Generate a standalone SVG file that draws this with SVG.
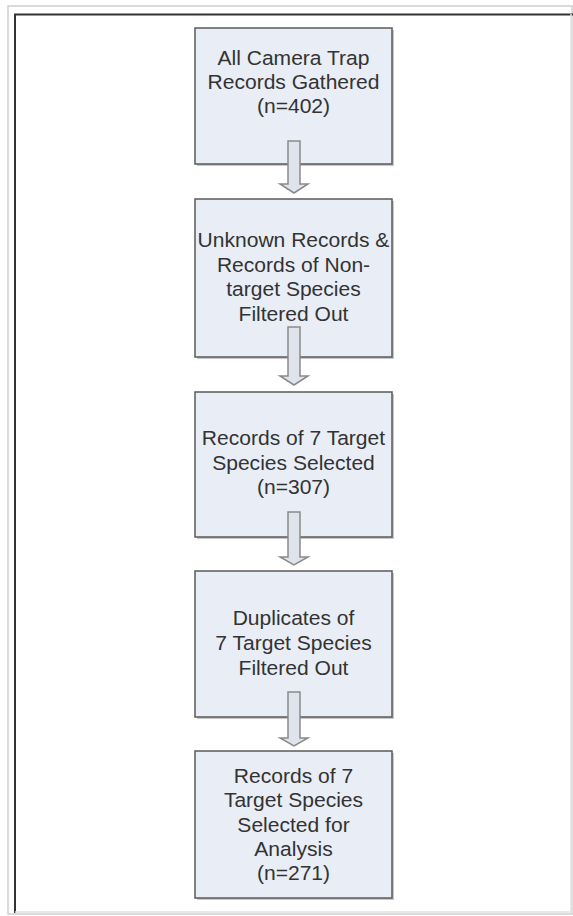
<svg xmlns="http://www.w3.org/2000/svg" width="573" height="916" viewBox="0 0 573 916">
<style>
.box{fill:#e9edf6;stroke:#5a5a5a;stroke-width:1.5}
.shadow{fill:#c8c8c8}
.t{font-family:"Liberation Sans",Arial,sans-serif;font-size:19.5px;fill:#333;text-anchor:middle}
.arr{fill:#dfe3ec;stroke:#8a8a8a;stroke-width:1.5;stroke-linejoin:miter}
</style>
<rect width="573" height="916" fill="#ffffff"/>
<g id="frame">
<rect x="8" y="6" width="564" height="908" fill="none" stroke="#cfcfcf" stroke-width="1.5"/>
<path d="M15,913 V14.5 H573" fill="none" stroke="#333" stroke-width="2"/>
<path d="M15,912 H571 V14" fill="none" stroke="#e4e4e4" stroke-width="1.5"/>
</g>
<g id="n1">
<rect class="shadow" x="197" y="30" width="197" height="136"/>
<rect class="box" x="195" y="28" width="197" height="136"/>
<g transform="translate(293.5,0) scale(1.08,1) translate(-293.5,0)">
<text class="t" x="293.5" y="65">All Camera Trap</text>
<text class="t" x="293.5" y="89">Records Gathered</text>
<text class="t" x="293.5" y="113">(n=402)</text>
</g>
</g>
<g id="n2">
<rect class="shadow" x="197" y="201" width="197" height="158"/>
<rect class="box" x="195" y="199" width="197" height="158"/>
<g transform="translate(293.5,0) scale(1.08,1) translate(-293.5,0)">
<text class="t" x="293.5" y="247">Unknown Records &amp;</text>
<text class="t" x="293.5" y="272">Records of Non-</text>
<text class="t" x="293.5" y="296">target Species</text>
<text class="t" x="293.5" y="321">Filtered Out</text>
</g>
</g>
<g id="n3">
<rect class="shadow" x="197" y="394" width="197" height="145"/>
<rect class="box" x="195" y="392" width="197" height="145"/>
<g transform="translate(293.5,0) scale(1.08,1) translate(-293.5,0)">
<text class="t" x="293.5" y="445">Records of 7 Target</text>
<text class="t" x="293.5" y="470">Species Selected</text>
<text class="t" x="293.5" y="494">(n=307)</text>
</g>
</g>
<g id="n4">
<rect class="shadow" x="197" y="573" width="197" height="146"/>
<rect class="box" x="195" y="571" width="197" height="146"/>
<g transform="translate(293.5,0) scale(1.08,1) translate(-293.5,0)">
<text class="t" x="293.5" y="625">Duplicates of</text>
<text class="t" x="293.5" y="650">7 Target Species</text>
<text class="t" x="293.5" y="675">Filtered Out</text>
</g>
</g>
<g id="n5">
<rect class="shadow" x="197" y="753" width="197" height="147"/>
<rect class="box" x="195" y="751" width="197" height="147"/>
<g transform="translate(293.5,0) scale(1.08,1) translate(-293.5,0)">
<text class="t" x="293.5" y="783">Records of 7</text>
<text class="t" x="293.5" y="807">Target Species</text>
<text class="t" x="293.5" y="832">Selected for</text>
<text class="t" x="293.5" y="856">Analysis</text>
<text class="t" x="293.5" y="880">(n=271)</text>
</g>
</g>
<g id="connectors">
<path class="arr" d="M288,141 H300 V184 H308 L294,193 L280,184 H288 Z"/>
<path class="arr" d="M288,327 H300 V376 H308 L294,385 L280,376 H288 Z"/>
<path class="arr" d="M288,512 H300 V557 H308 L294,565 L280,557 H288 Z"/>
<path class="arr" d="M288,692 H300 V738 H308 L294,746 L280,738 H288 Z"/>
</g>
</svg>
